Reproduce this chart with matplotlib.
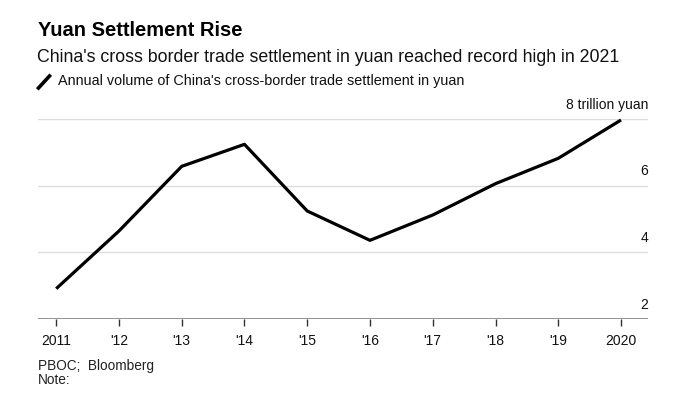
import matplotlib.pyplot as plt
from matplotlib.lines import Line2D

plt.rcParams['font.family'] = ['Liberation Sans', 'DejaVu Sans']

years = [2011, 2012, 2013, 2014, 2015, 2016, 2017, 2018, 2019, 2020]
year_labels = ['2011', "'12", "'13", "'14", "'15", "'16", "'17", "'18", "'19", '2020']
volume = [2.91, 4.64, 6.58, 7.24, 5.24, 4.36, 5.12, 6.06, 6.82, 7.97]
y_ticks = [2, 4, 6, 8]
y_labels = ['2', '4', '6', '8 trillion yuan']

fig = plt.figure(figsize=(6.85, 3.99), dpi=100)
ax = fig.add_axes([38/685, 1-319/399, 610/685, 200/399])

ax.plot(years, volume, color='black', lw=2.3, clip_on=False, solid_capstyle='butt', zorder=3)

ax.set_xlim(2010.71, 2020.43)
ax.set_ylim(2, 8)

for v in y_ticks[1:]:
    ax.axhline(v, color='#dddddd', lw=1, zorder=1)
ax.axhline(2, color='#888888', lw=2, zorder=2)

# y labels sit above their gridline, right aligned
for v, lab in zip(y_ticks, y_labels):
    ax.text(1.0, v + 0.22, lab, transform=ax.get_yaxis_transform(), ha='right', va='bottom',
            fontsize=10, color='#111111')

ax.set_yticks([])
ax.set_xticks(years)
ax.set_xticklabels(year_labels, fontsize=10, color='#111111')
ax.tick_params(axis='x', length=5, width=1, color='#333333', pad=6)
for s in ax.spines.values():
    s.set_visible(False)

fig.text(38/685, 1-31/399, 'Yuan Settlement Rise', fontsize=14.5, fontweight='bold', va='center', ha='left')
fig.text(37/685, 1-58/399, "China's cross border trade settlement in yuan reached record high in 2021",
         fontsize=12.8, va='center', ha='left', color='#111111')
fig.add_artist(Line2D([38.5/685, 49.5/685], [1-88/399, 1-76/399], color='black', lw=2.6))
fig.text(58/685, 1-81/399, "Annual volume of China's cross-border trade settlement in yuan",
         fontsize=10.4, va='center', ha='left', color='#111111')
fig.text(38/685, 1-366/399, 'PBOC;  Bloomberg', fontsize=9.8, va='center', ha='left', color='#222222')
fig.text(38/685, 1-380/399, 'Note:', fontsize=9.8, va='center', ha='left', color='#222222')

fig.savefig('out.png', dpi=100, facecolor='white')
